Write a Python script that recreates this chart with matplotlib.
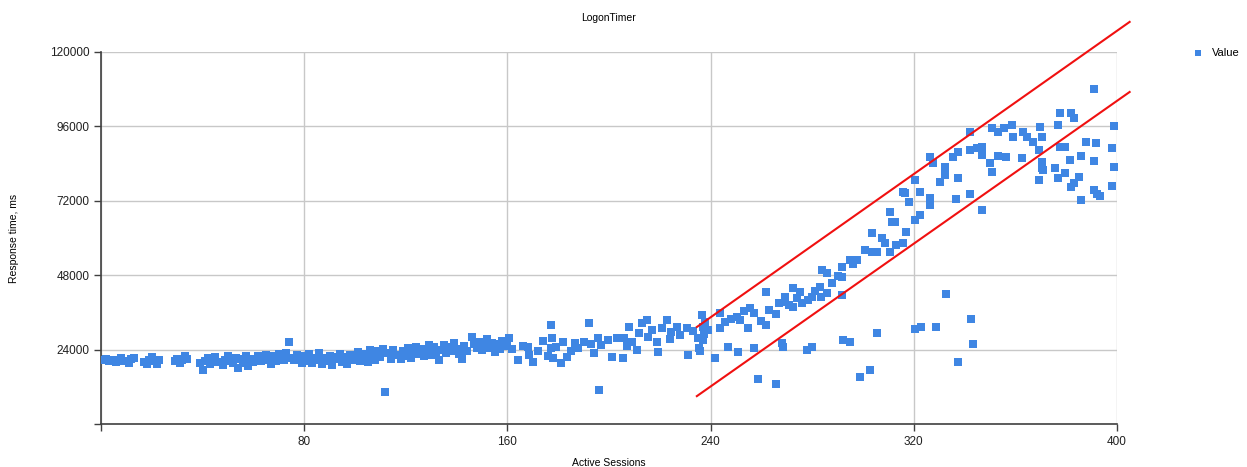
import matplotlib
matplotlib.use('Agg')

import matplotlib.pyplot as plt

# Active sessions vs logon response time (ms)
sessions_a = [1, 2, 3, 4, 6, 7, 8, 9, 11, 12, 13, 17, 18, 19, 20, 21, 22, 23,
              29, 30, 31, 32, 33, 34, 39, 40, 41, 42, 43, 44, 45, 46, 48, 49,
              50, 51, 52, 53, 54, 55, 56, 57, 58, 59, 60, 61, 62, 63, 64, 65,
              66, 67, 68, 69, 70, 71, 72, 73, 74, 75, 76, 77, 78, 79]
response_a = [20500, 21000, 20200, 20800, 19900, 20600, 21200, 20300, 19600,
              20900, 21400, 20100, 19500, 20700, 21500, 20200, 19300, 20800,
              20400, 21100, 19800, 20600, 22000, 20900, 19700, 17400, 20300,
              21200, 19400, 20800, 21600, 20100, 19200, 20700, 21800, 20400,
              19600, 21300, 18000, 20900, 19800, 22100, 18600, 21000, 19900,
              20500, 21900, 20300, 21500, 22300, 20700, 19400, 21800, 20200,
              22600, 21100, 20500, 22900, 26500, 21400, 20800, 22200, 21600,
              19700]

sessions_b = [80, 81, 82, 83, 84, 85, 86, 87, 88, 89, 90, 91, 92, 93, 94, 95,
              96, 97, 98, 99, 100, 101, 102, 103, 104, 105, 106, 107, 108, 109,
              110, 111, 112, 113, 114, 115, 116, 118, 119, 120, 121, 122, 123,
              124, 125, 126, 127, 128, 129, 130, 131, 132, 133, 134, 135, 136,
              137, 138, 139, 140, 141, 142, 143, 144, 146, 147, 148, 149, 150,
              151, 152, 153, 154, 155, 156, 157, 158, 159]
response_b = [21800, 20300, 22500, 19800, 21400, 20600, 22900, 19400, 21200,
              20400, 22100, 19000, 21700, 20900, 22600, 20100, 21500, 19500,
              22300, 20700, 21900, 23200, 20300, 22700, 21300, 19900, 23800,
              22200, 20800, 23400, 21600, 24300, 10300, 22800, 21100, 23900,
              22400, 20900, 23600, 22000, 24400, 21400, 23100, 25000, 22600,
              24100, 21800, 23500, 25400, 22300, 24700, 23000, 20600, 24000,
              25600, 22800, 24900, 23400, 26100, 24200, 22600, 21000, 25300,
              23700, 28000, 25800, 24400, 26600, 23900, 25100, 27400, 24600,
              26200, 23300, 25700, 24100, 26900, 25300]

sessions_c = [160, 160.5, 162, 164, 166, 168, 168.5, 170, 172, 174, 176, 177,
              177.5, 177, 178, 179, 181, 182, 183.5, 185, 186.6, 188, 190, 192,
              193, 194, 195.7, 196, 197, 199.6, 201, 203, 205.5, 206, 207, 208,
              209, 211, 212, 213, 215, 215.4, 217, 219, 219.5, 221, 223, 224,
              224.5, 226.8, 228, 230.7, 231, 233, 235, 235.5]
response_c = [26100, 27700, 24200, 20800, 25300, 24800, 22300, 20000, 23400,
              26800, 22100, 31900, 27700, 24500, 21300, 24900, 19700, 26500,
              21600, 23700, 26100, 24500, 26500, 32600, 25800, 23000, 27700,
              11000, 25500, 27100, 21600, 27700, 21300, 27700, 25200, 31300,
              26500, 24000, 29500, 32600, 33500, 28100, 30400, 26500, 23200,
              31000, 33500, 27400, 29700, 31300, 28600, 31000, 22300, 29900,
              27700, 24500]

sessions_d = [236.6, 237, 237.5, 237, 236, 238, 239, 241.7, 243.7, 243.7,
              245.7, 246.9, 248, 250.4, 250.8, 251.5, 253, 254.7, 255.5, 257,
              257, 258.7, 260, 261.8, 261.8, 263, 265.7, 265.7, 267, 268,
              268.5, 269.3, 269.3, 271, 272.4, 272.4, 274, 275.2, 276, 278,
              278.5, 280, 280, 281, 283, 283.5, 284, 286, 286, 288, 290, 291.7,
              291.7, 291.7, 292, 294.9, 294.9, 296, 297.5, 298.8, 300.8, 302.8,
              303.5, 303.5, 305.5, 305.5, 307.5, 308.5, 310.6, 310.6, 311.5,
              312.5, 313, 315.7, 315.7, 316.5, 318, 317]
response_d = [35200, 31300, 29000, 27100, 23500, 33000, 30200, 21300, 35800,
              31000, 32900, 24800, 34000, 34500, 23200, 33500, 36500, 31000,
              37400, 35800, 24500, 14500, 33300, 42600, 31900, 36800, 35500,
              12900, 39000, 26100, 24800, 41000, 39400, 38300, 43900, 37700,
              40500, 42600, 39000, 23900, 40000, 41000, 24800, 43000, 44200,
              41000, 49700, 48700, 42300, 45500, 47800, 50600, 47400, 41600,
              27100, 26500, 52900, 51500, 52900, 15200, 56100, 17400, 61600,
              55500, 55500, 29400, 60000, 58400, 55500, 68400, 65200, 65200,
              57600, 58400, 74800, 74500, 71600, 62000]

sessions_e = [320.5, 322.4, 320.5, 322.4, 326.4, 327.5, 326.4, 326.4, 330.3,
              332.2, 332.2, 335.4, 337.4, 337.4, 336.8, 342, 342, 342.3, 344.9,
              347, 347, 347, 350, 350.8, 350.8, 353, 353, 355.5, 356.5, 358.7,
              359, 362.6, 363, 364.6, 366.9, 369.7, 370.5, 369.4, 370.5, 370.5,
              371, 369.4, 375.6, 376.8, 377.6, 377.6, 376.8, 379.6, 379.6,
              381.6, 382, 383.2, 382, 383.2, 385.2, 386, 386, 388, 391, 391,
              391, 391.8, 392.2, 393.4, 399, 398.2, 399, 398.2,
              320.5, 323, 328.7, 332.6, 337.4, 342.5, 343.3]
response_e = [78700, 74800, 65800, 67400, 86100, 84200, 72900, 70600, 78100,
              82900, 80300, 86100, 87700, 79400, 72600, 94200, 88400, 74200,
              89000, 89400, 86800, 69000, 84200, 81300, 95500, 94200, 86500,
              95500, 86100, 96500, 92600, 85800, 94200, 92600, 91000, 95800,
              92600, 88400, 84500, 82600, 81900, 78700, 82600, 96500, 100300,
              89400, 79400, 89400, 81000, 85200, 100300, 98700, 76500, 77700,
              79700, 86500, 72300, 91000, 75500, 84800, 108000, 90600, 74200,
              73500, 96100, 89000, 82900, 76800,
              30600, 31300, 31300, 41900, 20000, 33900, 25800]

sessions = sessions_a + sessions_b + sessions_c + sessions_d + sessions_e
response = response_a + response_b + response_c + response_d + response_e

# red trend band drawn on top (data coordinates, extends past the axes)
band_x = [234.6, 405]
band_upper = [31300, 129700]
band_lower = [9000, 107100]

x_ticks = [0, 80, 160, 240, 320, 400]
x_tick_labels = ['', '80', '160', '240', '320', '400']
y_ticks = [0, 24000, 48000, 72000, 96000, 120000]
y_tick_labels = ['', '24000', '48000', '72000', '96000', '120000']

plt.rcParams['font.family'] = ['Liberation Sans', 'DejaVu Sans']

fig = plt.figure(figsize=(12.47, 4.67), dpi=100)
ax = fig.add_axes([0.081, 0.092, 0.8147, 0.7967])

ax.scatter(sessions, response, marker='s', s=30, color='#3F86E3',
           linewidths=0, label='Value', zorder=3)

ax.plot(band_x, band_upper, color='#F01010', lw=1.5, clip_on=False, zorder=4)
ax.plot(band_x, band_lower, color='#F01010', lw=1.5, clip_on=False, zorder=4)

ax.set_xlim(0, 400)
ax.set_ylim(0, 120000)
ax.set_xticks(x_ticks)
ax.set_xticklabels(x_tick_labels)
ax.set_yticks(y_ticks)
ax.set_yticklabels(y_tick_labels)
ax.tick_params(axis='both', labelsize=8.5, length=5, width=1, color='#404040',
               labelcolor='#202020', direction='out')

ax.grid(True, color='#C8C8C8', lw=1)
ax.set_axisbelow(True)
for side in ['top', 'right']:
    ax.spines[side].set_visible(False)
for side in ['left', 'bottom']:
    ax.spines[side].set_color('#404040')
    ax.spines[side].set_linewidth(1.2)

ax.set_xlabel('Active Sessions', fontsize=7.5, labelpad=7)
ax.set_ylabel('Response time, ms', fontsize=7.5, labelpad=22)
ax.set_title('LogonTimer', fontsize=7.5, pad=22)

fig.legend(loc='upper left', bbox_to_anchor=(0.9575, 0.897), frameon=False,
           fontsize=8, handlelength=0.8, handletextpad=0.8, borderpad=0,
           borderaxespad=0, markerscale=0.8)

plt.savefig('out.png', dpi=100)
plt.close(fig)
